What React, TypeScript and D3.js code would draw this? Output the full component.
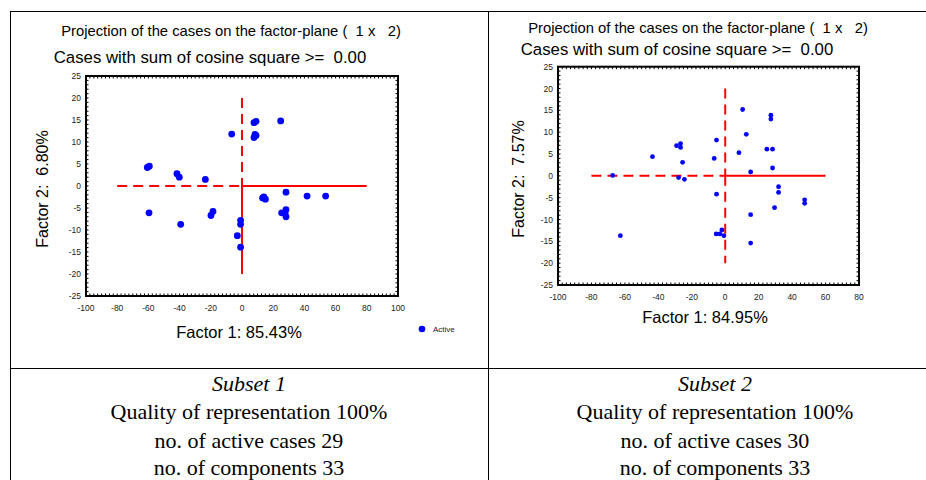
import React from "react";
import * as d3 from "d3";

// Subset 1 case coordinates (Factor 1, Factor 2)
const subset1X = [-6.6, 7.7, 9, 24.8, 7.7, 9, 8.3, -60.7, -59.4, -41.7, -40.2, -23.5, -59.6, -39.3, -19.9, -18.6, -0.9, -0.9, -3, -0.9, 28.2, 41.7, 53.6, 13.2, 15, 14, 25.4, 28.2, 28.2, 27.6];
const subset1Y = [11.8, 14.4, 14.7, 14.8, 11.0, 11.5, 11.7, 4.2, 4.5, 2.8, 2.0, 1.5, -6.1, -8.7, -6.7, -5.8, -7.8, -8.7, -11.3, -13.9, -1.4, -2.3, -2.3, -2.7, -3.0, -2.5, -6.1, -5.4, -7.0, -6.2];

// Subset 2 case coordinates
const subset2X = [10.4, 27.3, 27.3, 12.6, -5.2, -29.1, -26.7, -26.7, -43.5, -25.5, -6.6, 8.2, 24.9, 28.3, 28.3, 15.2, -67.3, -27.9, -24.4, -5.2, 31.9, 31.9, 47.5, 47.5, 29.5, 15.2, -62.7, -5.4, -3.2, -2.0, -0.8, 15.2];
const subset2Y = [15.2, 13.9, 13.0, 9.5, 8.2, 6.9, 7.4, 6.5, 4.4, 3.1, 4.0, 5.3, 6.1, 6.1, 1.8, 0.9, 0.1, -0.4, -0.8, -4.2, -2.5, -3.8, -5.5, -6.3, -7.3, -8.9, -13.7, -13.3, -13.3, -12.4, -13.7, -15.4];

const xTicks1 = [-100, -80, -60, -40, -20, 0, 20, 40, 60, 80, 100];
const xTicks2 = [-100, -80, -60, -40, -20, 0, 20, 40, 60, 80];
const yTicks = [-25, -20, -15, -10, -5, 0, 5, 10, 15, 20, 25];

const subset1Info = ["Subset 1", "Quality of representation 100%", "no. of active cases 29", "no. of components 33"];
const subset2Info = ["Subset 2", "Quality of representation 100%", "no. of active cases 30", "no. of components 33"];

const sans = "'Liberation Sans', Arial, sans-serif";
const serif = "'Liberation Serif', 'Times New Roman', serif";

function Panel(props) {
  const { xs, ys, xTicks, xRange, yRange, r, title1, title2, yLabel, xLabel, lineH, lineV, vAllDashed, legend } = props;
  const x = d3.scaleLinear().domain([xTicks[0], xTicks[xTicks.length - 1]]).range(xRange);
  const y = d3.scaleLinear().domain([-25, 25]).range(yRange);
  const [x0, x1] = xRange;
  const [yb, yt] = yRange;
  const minorX = d3.range(xTicks[0], xTicks[xTicks.length - 1] + 0.01, 2.5);
  const minorY = d3.range(-25, 25.01, 1);
  return (
    <g>
      <text x={title1.x} y={title1.y} fontSize={14.8} textAnchor="middle" fontFamily={sans} style={{ whiteSpace: "pre" }}>
        {"Projection of the cases on the factor-plane (  1 x   2)"}
      </text>
      <text x={title2.x} y={title2.y} fontSize={16.8} textAnchor="middle" fontFamily={sans} style={{ whiteSpace: "pre" }}>
        {"Cases with sum of cosine square >=  0.00"}
      </text>
      {/* minor ticks on all sides */}
      {minorX.map((d, i) => (
        <g key={"mx" + i}>
          <line x1={x(d)} x2={x(d)} y1={yb} y2={yb - 2.5} stroke="#000" strokeWidth={1} />
          <line x1={x(d)} x2={x(d)} y1={yt} y2={yt + 2.5} stroke="#000" strokeWidth={1} />
        </g>
      ))}
      {minorY.map((d, i) => (
        <g key={"my" + i}>
          <line x1={x0} x2={x0 + 2.5} y1={y(d)} y2={y(d)} stroke="#000" strokeWidth={1} />
          <line x1={x1} x2={x1 - 2.5} y1={y(d)} y2={y(d)} stroke="#000" strokeWidth={1} />
        </g>
      ))}
      <rect x={x0} y={yt} width={x1 - x0} height={yb - yt} fill="none" stroke="#000" strokeWidth={2} />
      {xTicks.map((d) => (
        <text key={"xt" + d} x={x(d)} y={yb + 15} fontSize={8.5} textAnchor="middle" fontFamily={sans} fill="#222">{d}</text>
      ))}
      {yTicks.map((d) => (
        <text key={"yt" + d} x={x0 - 5} y={y(d) + 3} fontSize={8.5} textAnchor="end" fontFamily={sans} fill="#222">{d}</text>
      ))}
      {/* axis cross */}
      <line x1={x(lineH[0])} x2={x(0)} y1={y(0)} y2={y(0)} stroke="#ff0000" strokeWidth={2} strokeDasharray="10 6" />
      <line x1={x(0)} x2={x(lineH[1])} y1={y(0)} y2={y(0)} stroke="#ff0000" strokeWidth={2} />
      <line x1={x(0)} x2={x(0)} y1={y(lineV[1])} y2={y(0)} stroke="#ff0000" strokeWidth={2} strokeDasharray="10 6" />
      <line x1={x(0)} x2={x(0)} y1={y(0)} y2={y(lineV[0])} stroke="#ff0000" strokeWidth={2} strokeDasharray={vAllDashed ? "10 6" : undefined} />
      {xs.map((d, i) => (
        <circle key={"p" + i} cx={x(d)} cy={y(ys[i])} r={r} fill="#0000ff" />
      ))}
      <text transform={`translate(${yLabel.x},${yLabel.y}) rotate(-90)`} fontSize={16} textAnchor="middle" fontFamily={sans} style={{ whiteSpace: "pre" }}>
        {yLabel.text}
      </text>
      <text x={xLabel.x} y={xLabel.y} fontSize={16.5} textAnchor="middle" fontFamily={sans}>{xLabel.text}</text>
      {legend && (
        <g>
          <circle cx={legend.x} cy={legend.y} r={3.3} fill="#0000ff" />
          <text x={legend.x + 11} y={legend.y + 3} fontSize={8} fontFamily={sans} fill="#222">Active</text>
        </g>
      )}
    </g>
  );
}

function InfoBlock({ lines, cx }) {
  const baselines = [391, 419, 448, 475];
  return (
    <g fontFamily={serif} fontSize={22} textAnchor="middle">
      {lines.map((t, i) => (
        <text key={i} x={cx} y={baselines[i]} fontStyle={i === 0 ? "italic" : "normal"}>{t}</text>
      ))}
    </g>
  );
}

export default function App() {
  return (
    <svg width={926} height={480} style={{ position: "absolute", left: 0, top: 0, background: "#fff" }}>
      <rect x={0} y={0} width={926} height={480} fill="#fff" />
      {/* table grid */}
      <line x1={10} x2={926} y1={11.5} y2={11.5} stroke="#000" strokeWidth={1} />
      <line x1={10.5} x2={10.5} y1={11} y2={480} stroke="#000" strokeWidth={1} />
      <line x1={488.5} x2={488.5} y1={11} y2={480} stroke="#000" strokeWidth={1} />
      <line x1={10} x2={926} y1={368.5} y2={368.5} stroke="#000" strokeWidth={1} />

      <Panel
        xs={subset1X}
        ys={subset1Y}
        xTicks={xTicks1}
        xRange={[86, 398]}
        yRange={[296, 76]}
        r={3.4}
        title1={{ x: 231, y: 36 }}
        title2={{ x: 210, y: 63 }}
        yLabel={{ x: 48, y: 189, text: "Factor 2:  6.80%" }}
        xLabel={{ x: 239, y: 338, text: "Factor 1: 85.43%" }}
        lineH={[-80, 80]}
        lineV={[-20, 20]}
        vAllDashed={false}
        legend={{ x: 422, y: 329 }}
      />
      <Panel
        xs={subset2X}
        ys={subset2Y}
        xTicks={xTicks2}
        xRange={[558, 859]}
        yRange={[285, 66.7]}
        r={2.4}
        title1={{ x: 698, y: 33 }}
        title2={{ x: 677, y: 55 }}
        yLabel={{ x: 524, y: 179, text: "Factor 2:  7.57%" }}
        xLabel={{ x: 705, y: 323, text: "Factor 1: 84.95%" }}
        lineH={[-80, 60]}
        lineV={[-20, 20]}
        vAllDashed={true}
        legend={null}
      />

      <InfoBlock lines={subset1Info} cx={249} />
      <InfoBlock lines={subset2Info} cx={715} />
    </svg>
  );
}
